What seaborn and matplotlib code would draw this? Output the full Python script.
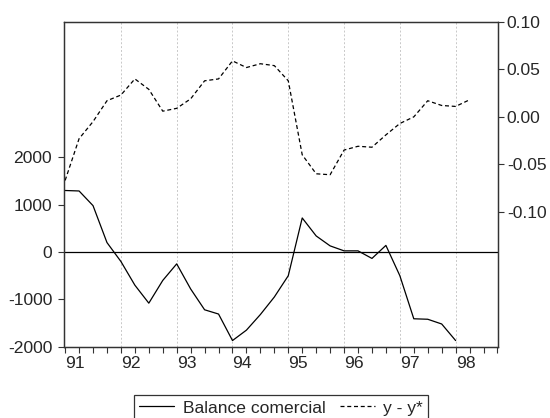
import numpy as np
import pandas as pd
import matplotlib
matplotlib.use("Agg")
import matplotlib.pyplot as plt
import seaborn as sns

# datos trimestrales 1991Q1 - 1998Q2
balance = [1300, 1290, 980, 200, -200, -700, -1080, -600,
           -250, -780, -1220, -1310, -1870, -1650, -1320, -950,
           -500, 720, 340, 130, 25, 25, -135, 140,
           -500, -1410, -1420, -1520, -1870]
brecha = [-0.067, -0.023, -0.005, 0.017, 0.023, 0.040, 0.029, 0.006,
          0.009, 0.019, 0.038, 0.040, 0.059, 0.052, 0.056, 0.054,
          0.038, -0.040, -0.060, -0.061, -0.035, -0.031, -0.032, -0.019,
          -0.007, 0.000, 0.017, 0.012, 0.011, 0.018]
years = [1991, 1992, 1993, 1994, 1995, 1996, 1997, 1998]
year_labels = ["91", "92", "93", "94", "95", "96", "97", "98"]
left_ticks = [-2000, -1000, 0, 1000, 2000]
right_ticks = [-0.10, -0.05, 0.00, 0.05, 0.10]

per = pd.period_range("1991Q1", periods=len(brecha), freq="Q")
t = per.year + (per.quarter - 1) / 4.0
df_b = pd.DataFrame({"t": t[:len(balance)], "v": balance})
df_y = pd.DataFrame({"t": t, "v": brecha})

sns.set_style("white")
plt.rcParams['font.family'] = ['Liberation Sans', 'DejaVu Sans']
plt.rcParams['axes.unicode_minus'] = False
fs = 12.6

fig = plt.figure(figsize=(5.5, 4.18), dpi=100)
ax = fig.add_axes([0.1164, 0.170, 0.7886, 0.7774])
ax2 = ax.twinx()

sns.lineplot(data=df_b, x="t", y="v", ax=ax, color="black", lw=0.9,
             label="Balance comercial", legend=False)
sns.lineplot(data=df_y, x="t", y="v", ax=ax2, color="black", lw=0.9,
             linestyle=(0, (3.2, 2.2)), label="y - y*", legend=False)

ax.axhline(0, color="black", lw=0.9, zorder=1)
for yr in years[1:]:
    ax.axvline(yr, color="#c8c8c8", lw=0.7, ls=(0, (2, 2)), zorder=0)

ax.set_xlim(1990.98, 1998.755)
ax.set_ylim(-2005, 4860)
ax2.set_ylim(-0.2425, 0.10)

ax.set_xticks(years)
ax.set_xticklabels(year_labels, ha="left")
ax.set_xticks(np.arange(1991, 1998.76, 0.25), minor=True)
ax.set_yticks(left_ticks)
ax.set_yticklabels([str(v) for v in left_ticks])
ax2.set_yticks(right_ticks)
ax2.set_yticklabels(["%.2f" % v for v in right_ticks])

for a in (ax, ax2):
    a.set_xlabel("")
    a.set_ylabel("")
    for s in a.spines.values():
        s.set_color("#333333")
        s.set_linewidth(0.9)
ax.tick_params(axis="x", which="both", direction="out", length=4, width=0.8,
               color="#333333", labelsize=fs, pad=2.5, bottom=True)
ax.tick_params(axis="y", direction="out", length=4, width=0.8,
               color="#333333", labelsize=fs, pad=4.5, left=True)
ax2.tick_params(axis="y", direction="out", length=4, width=0.8,
                color="#333333", labelsize=fs, pad=2.5, right=True)

h1, l1 = ax.get_legend_handles_labels()
h2, l2 = ax2.get_legend_handles_labels()
leg = fig.legend(h1 + h2, l1 + l2, loc="upper center", ncol=2,
                 bbox_to_anchor=(0.511, 0.055), frameon=True, fancybox=False,
                 fontsize=fs, handlelength=2.0, handletextpad=0.5,
                 columnspacing=0.8, borderpad=0.3, borderaxespad=0)
leg.get_frame().set_edgecolor("black")
leg.get_frame().set_linewidth(0.9)

fig.savefig("out.png", dpi=100)
